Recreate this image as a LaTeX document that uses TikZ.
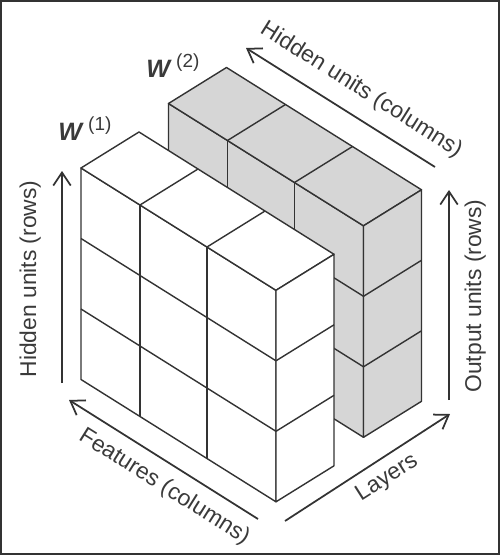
\documentclass[tikz,border=0pt]{standalone}
\usepackage{fontspec}
\setmainfont{Liberation Sans}
\usetikzlibrary{arrows.meta}
\definecolor{edgegray}{RGB}{51,51,51}
\definecolor{boxgray}{RGB}{214,214,214}
\definecolor{textgray}{RGB}{58,58,58}
% one slab of 3x3 cubes, front-left top corner at the origin
\newcommand\drawslab[1]{%
  \filldraw[edge,fill=#1] (0,0) -- (195,122.3) -- (195,333.8) -- (0,211.5) -- cycle;
  \filldraw[edge,fill=#1] (0,0) -- (58,-36) -- (253,86.3) -- (195,122.3) -- cycle;
  \filldraw[edge,fill=#1] (195,122.3) -- (253,86.3) -- (253,297.8) -- (195,333.8) -- cycle;
  \foreach \cx/\cy in {59/37,126/79}{
    \draw[edge] (\cx,\cy) -- ++(0,211.5);
    \draw[edge] (\cx,\cy) -- ++(58,-36);
  }
  \foreach \r in {70.5,141}{
    \draw[edge] (0,\r) -- (195,122.3+\r);
    \draw[edge] (195,122.3+\r) -- (253,86.3+\r);
  }%
}
\newcommand\wlabel[1]{{\fontsize{14.3}{16}\selectfont\bfseries\itshape W}\hspace{3.5pt}\raisebox{5.5pt}{\fontsize{10.8}{12}\selectfont(#1)}}

\begin{document}
\begin{tikzpicture}[x=0.02cm,y=-0.02cm,
    edge/.style={draw=edgegray,line width=0.8pt,line join=round},
    axis/.style={draw=edgegray,line width=1pt,-{Straight Barb[length=2.6mm,width=3.5mm]}},
    lbl/.style={text=textgray,font=\fontsize{13}{15}\selectfont,inner sep=0pt}]
  \useasboundingbox (0,0) rectangle (500,555);
  \draw[draw=edgegray,line width=1.2pt] (0.6,0.6) rectangle (499.4,554.4);

  \begin{scope}[shift={(168.5,103.5)}]
    \drawslab{boxgray}
  \end{scope}
  \begin{scope}[shift={(81,168)}]
    \drawslab{white}
  \end{scope}

  \node[lbl,anchor=base west] (w1) at (58,140) {\wlabel{1}};
  \node[lbl,anchor=base west] (w2) at (146,77) {\wlabel{2}};

  \coordinate (hr0) at (62,383);
  \coordinate (hr1) at (62,171);
  \draw[axis] (hr0) -- (hr1);
  \node[lbl,rotate=90,anchor=base] (hrl) at (36,279) {Hidden units (rows)};

  \coordinate (hc0) at (435,167);
  \coordinate (hc1) at (246,48);
  \draw[axis] (hc0) -- (hc1);
  \node[lbl,rotate=-32.2,anchor=base] (hcl) at (358,95) {Hidden units (columns)};

  \coordinate (fc0) at (258,519);
  \coordinate (fc1) at (69,400);
  \draw[axis] (fc0) -- (fc1);
  \node[lbl,rotate=-32.2,anchor=base] (fcl) at (161,492) {Features (columns)};

  \coordinate (ly0) at (285,521);
  \coordinate (ly1) at (450,414);
  \draw[axis] (ly0) -- (ly1);
  \node[lbl,rotate=32.5,anchor=base] (lyl) at (390,483) {Layers};

  \coordinate (or0) at (449,400);
  \coordinate (or1) at (449,190);
  \draw[axis] (or0) -- (or1);
  \node[lbl,rotate=90,anchor=base] (orl) at (481,296) {Output units (rows)};
\end{tikzpicture}
\end{document}
